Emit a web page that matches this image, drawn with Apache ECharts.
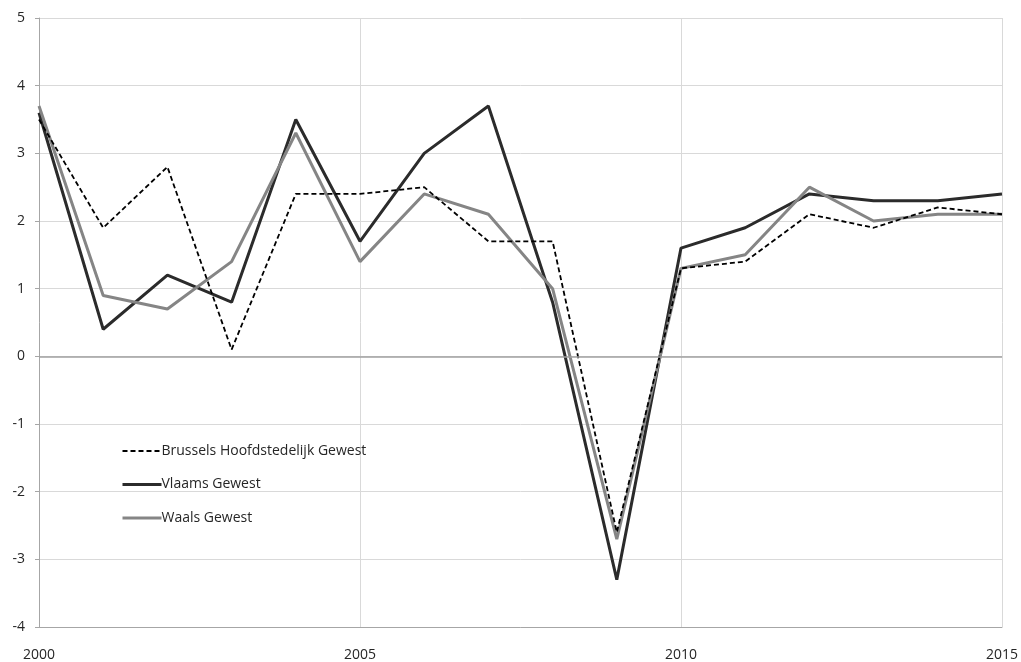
<!DOCTYPE html>
<html>
<head>
<meta charset="utf-8">
<script src="https://cdn.jsdelivr.net/npm/echarts@6/dist/echarts.min.js"></script>
<style>
  html, body { margin: 0; padding: 0; background: #fff; }
  #chart { width: 1021px; height: 662px; }
</style>
</head>
<body>
<div id="chart"></div>
<script>
// Yearly growth (%) per region, 2000–2015
const years = [2000, 2001, 2002, 2003, 2004, 2005, 2006, 2007, 2008, 2009, 2010, 2011, 2012, 2013, 2014, 2015];
const brussels = [3.5, 1.9, 2.8, 0.1, 2.4, 2.4, 2.5, 1.7, 1.7, -2.6, 1.3, 1.4, 2.1, 1.9, 2.2, 2.1];
const vlaanderen = [3.6, 0.4, 1.2, 0.8, 3.5, 1.7, 3.0, 3.7, 0.8, -3.3, 1.6, 1.9, 2.4, 2.3, 2.3, 2.4];
const wallonie = [3.7, 0.9, 0.7, 1.4, 3.3, 1.4, 2.4, 2.1, 1.0, -2.7, 1.3, 1.5, 2.5, 2.0, 2.1, 2.1];
const seriesNames = ['Brussels Hoofdstedelijk Gewest', 'Vlaams Gewest', 'Waals Gewest'];

const pairs = arr => years.map((y, i) => [y, arr[i]]);
const FONT = '"Open Sans", "Liberation Sans", sans-serif';

const chart = echarts.init(document.getElementById('chart'), null, { renderer: 'canvas' });
chart.setOption({
  animation: false,
  backgroundColor: '#ffffff',
  textStyle: { fontFamily: FONT },
  grid: { left: 39, right: 18, top: 18, bottom: 34, containLabel: false },
  legend: {
    orient: 'vertical',
    left: 116,
    top: 439,
    itemWidth: 39,
    itemHeight: 10,
    itemGap: 19.5,
    data: [
      { name: seriesNames[0], lineStyle: { width: 2 } },
      { name: seriesNames[1], lineStyle: { width: 3 } },
      { name: seriesNames[2], lineStyle: { width: 3 } }
    ],
    itemStyle: { opacity: 0 },
    textStyle: { fontFamily: FONT, fontSize: 14, color: '#262626', padding: [0, 0, 0, -5] }
  },
  xAxis: {
    type: 'value',
    min: 2000,
    max: 2015,
    interval: 5,
    axisLine: { show: true, onZero: false, lineStyle: { color: '#a6a6a6', width: 1 } },
    axisTick: { show: false },
    axisLabel: { margin: 21, fontSize: 14, color: '#262626', fontFamily: FONT, formatter: v => String(v) },
    splitLine: { show: true, lineStyle: { color: '#d9d9d9', width: 1 } }
  },
  yAxis: {
    type: 'value',
    min: -4,
    max: 5,
    interval: 1,
    axisLine: { show: true, lineStyle: { color: '#a6a6a6', width: 1 } },
    axisTick: { show: true, length: 4, inside: false, lineStyle: { color: '#a6a6a6' } },
    axisLabel: { margin: 14, fontSize: 14, color: '#262626', fontFamily: FONT },
    splitLine: { show: true, lineStyle: { color: '#d9d9d9', width: 1 } }
  },
  series: [
    {
      name: seriesNames[0],
      type: 'line',
      data: pairs(brussels),
      symbol: 'none',
      z: 4,
      color: '#000000',
      lineStyle: { color: '#000000', width: 1.8, type: [5, 3] },
      markLine: {
        silent: true,
        symbol: 'none',
        label: { show: false },
        lineStyle: { color: '#a0a0a0', width: 1.5, type: 'solid' },
        data: [{ yAxis: 0 }]
      }
    },
    {
      name: seriesNames[1],
      type: 'line',
      data: pairs(vlaanderen),
      symbol: 'none',
      z: 3,
      color: '#2b2b2b',
      lineStyle: { color: '#2b2b2b', width: 3 }
    },
    {
      name: seriesNames[2],
      type: 'line',
      data: pairs(wallonie),
      symbol: 'none',
      z: 3,
      color: '#858585',
      lineStyle: { color: '#858585', width: 3 }
    }
  ]
});
</script>
</body>
</html>
